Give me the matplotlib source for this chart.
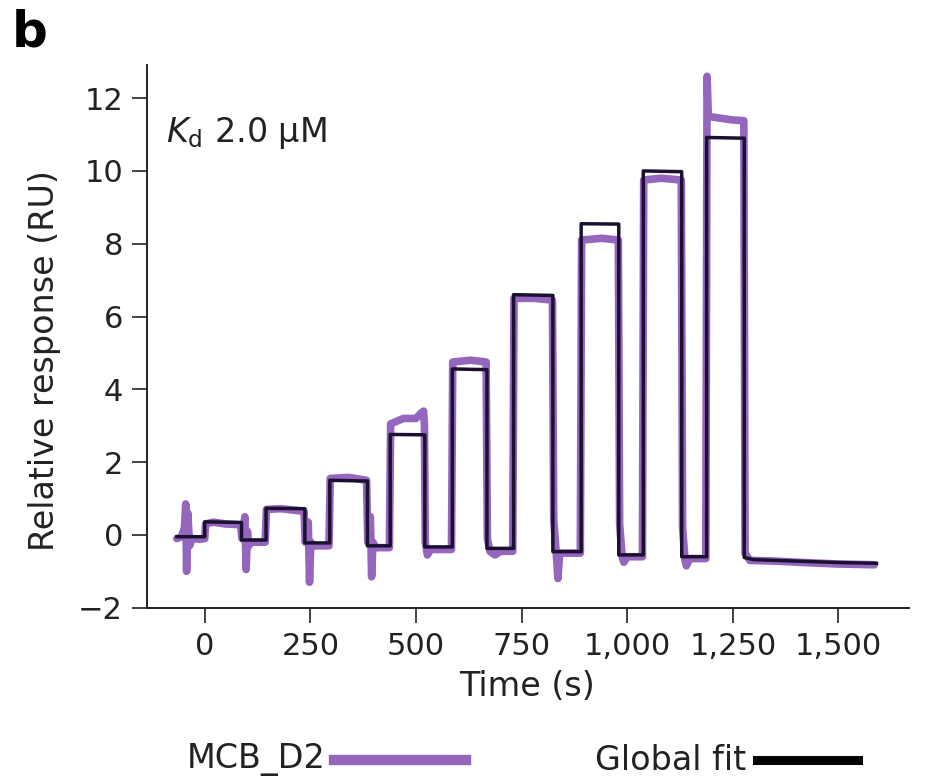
import matplotlib
matplotlib.use('Agg')
import matplotlib.pyplot as plt
from matplotlib.lines import Line2D
from matplotlib.ticker import FuncFormatter

plt.rcParams['font.family'] = ['DejaVu Sans']
plt.rcParams['mathtext.fontset'] = 'dejavusans'

# ---- data ----
fit_t = [-66, 0, 0, 87, 87, 145, 145, 237, 237, 296, 296, 385, 385, 439, 439, 521, 521,
         586, 586, 668, 668, 731, 731, 824, 824, 891, 891, 980, 980, 1038, 1038, 1129, 1129,
         1188, 1188, 1277, 1277, 1300, 1400, 1500, 1590]
fit_y = [-0.05, -0.05, 0.36, 0.34, -0.14, -0.14, 0.73, 0.72, -0.22, -0.22, 1.50, 1.48, -0.30,
         -0.30, 2.76, 2.75, -0.33, -0.33, 4.56, 4.54, -0.37, -0.37, 6.60, 6.58, -0.46, -0.46,
         8.55, 8.54, -0.55, -0.55, 10.0, 9.98, -0.60, -0.60, 10.92, 10.90, -0.62, -0.68,
         -0.72, -0.76, -0.78]

data_t = [-66, -55, -48, -45, -43, -40, -36, -30, -10, 0, 2, 20, 50, 85, 88, 95, 98, 101, 104,
          110, 143, 146, 180, 235, 238, 245, 248, 251, 258, 294, 297, 340, 383, 386, 392, 395,
          398, 405, 437, 440, 470, 500, 512, 518, 520, 522, 527, 535, 584, 587, 630, 666, 669,
          675, 687, 700, 729, 732, 780, 823, 826, 832, 836, 840, 850, 889, 892, 940, 979, 982,
          988, 992, 1000, 1036, 1039, 1080, 1128, 1131, 1137, 1140, 1148, 1186, 1189, 1192,
          1220, 1250, 1276, 1279, 1290, 1350, 1420, 1500, 1585]
data_y = [-0.10, -0.05, 0.20, 0.85, -1.00, 0.60, -0.30, -0.10, -0.12, -0.10, 0.30, 0.35, 0.30,
          0.28, -0.10, 0.50, -0.95, 0.10, -0.30, -0.20, -0.20, 0.70, 0.72, 0.65, -0.20, 0.35,
          -1.30, -0.20, -0.30, -0.30, 1.55, 1.58, 1.50, -0.20, 0.50, -1.15, -0.20, -0.35,
          -0.35, 3.05, 3.20, 3.20, 3.35, 3.40, 3.00, -0.20, -0.55, -0.40, -0.40, 4.75, 4.80,
          4.75, -0.10, -0.45, -0.55, -0.45, -0.45, 6.50, 6.50, 6.45, 0.40, -0.50, -1.20,
          -0.50, -0.50, -0.50, 8.10, 8.15, 8.10, 0.30, -0.60, -0.75, -0.60, -0.60, 9.75,
          9.80, 9.75, 0.20, -0.70, -0.85, -0.65, -0.65, 12.60, 11.50, 11.45, 11.40, 11.38,
          -0.50, -0.70, -0.72, -0.76, -0.80, -0.82]

x_ticks = [0, 250, 500, 750, 1000, 1250, 1500]
y_ticks = [-2, 0, 2, 4, 6, 8, 10, 12]

series_labels = ['MCB_D2', 'Global fit']
purple = '#9466be'
fitcol = '#1c1030'
txtcol = '#222222'

fig = plt.figure(figsize=(9.46, 7.77), dpi=100)
ax = fig.add_axes([0.1557, 0.2179, 0.8052, 0.6984])

ax.plot(data_t, data_y, color=purple, lw=5.5, solid_joinstyle='round',
        solid_capstyle='round', zorder=2)
ax.plot(fit_t, fit_y, color=fitcol, lw=2.5, zorder=3)

ax.set_xlim(-136, 1667)
ax.set_ylim(-2, 12.91)
ax.set_xticks(x_ticks)
ax.set_yticks(y_ticks)
ax.xaxis.set_major_formatter(FuncFormatter(lambda v, p: f"{int(v):,}"))
ax.yaxis.set_major_formatter(FuncFormatter(lambda v, p: f"{int(v)}".replace('-', '\u2212')))

for s in ['top', 'right']:
    ax.spines[s].set_visible(False)
for s in ['left', 'bottom']:
    ax.spines[s].set_linewidth(1.4)
    ax.spines[s].set_color(txtcol)
ax.tick_params(direction='out', length=10.5, width=1.2, labelsize=22,
               colors=txtcol, pad=7)

ax.text(0.0245, 0.8587, r"$K_{\mathrm{d}}$ 2.0 μM", transform=ax.transAxes,
        fontsize=24, color=txtcol, va='baseline', ha='left')

fig.text(45 / 946, 1 - 361 / 777, 'Relative response (RU)', rotation=90,
         ha='center', va='center', fontsize=24, color=txtcol)
fig.text(527 / 946, 1 - 686 / 777, 'Time (s)', ha='center', va='center',
         fontsize=24, color=txtcol)
fig.text(0.012, 0.989, 'b', fontsize=36, fontweight='bold', va='top', ha='left')

# legend
ly = 1 - 760 / 777
fig.text(326 / 946, ly, series_labels[0], ha='right', va='center', fontsize=24, color=txtcol)
fig.add_artist(Line2D([334 / 946, 466 / 946], [ly, ly], color=purple, lw=7.5,
                      transform=fig.transFigure))
fig.text(746 / 946, ly, series_labels[1], ha='right', va='center', fontsize=24, color=txtcol)
fig.add_artist(Line2D([757 / 946, 858 / 946], [ly, ly], color='black', lw=6.5,
                      transform=fig.transFigure))

fig.savefig('out.png', dpi=100)
